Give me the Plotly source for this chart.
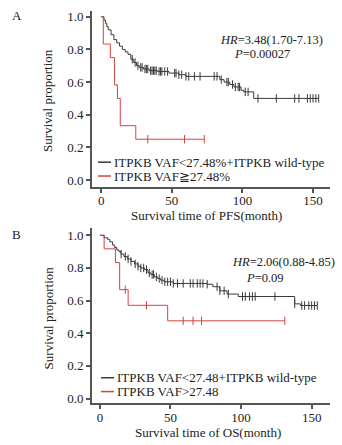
import numpy as np
import plotly.graph_objects as go

# ---- Panel A: progression-free survival ----
pfs_low_t = [0, 2, 3, 4, 5, 7, 9, 11, 13, 15, 17, 19, 21, 23, 25, 27, 30, 34, 40, 48, 55, 60, 84, 87, 91, 94, 99, 101, 108]
pfs_low_s = [1.0, 0.98, 0.96, 0.94, 0.92, 0.89, 0.86, 0.84, 0.82, 0.80, 0.785, 0.77, 0.74, 0.72, 0.70, 0.69, 0.68, 0.67,
             0.665, 0.655, 0.645, 0.635, 0.615, 0.60, 0.585, 0.57, 0.55, 0.54, 0.50]
pfs_low_cens = [22, 24, 26, 28, 29, 31, 32, 33, 35, 36, 37, 38, 39, 41, 42, 43, 45, 47, 52, 53, 55, 57, 60, 62, 66, 70,
                80, 82, 85, 89, 90, 93, 95, 97, 98, 102, 104, 111, 124, 137, 140, 146, 148, 150, 152, 154]
pfs_high_t = [0, 1.5, 6.5, 9.5, 11.5, 13.5, 24.5]
pfs_high_s = [1.0, 0.833, 0.75, 0.583, 0.50, 0.333, 0.25]
pfs_high_cens = [33, 59, 73]

# ---- Panel B: overall survival ----
os_low_t = [0, 3, 5.5, 7, 9, 10.5, 12, 13.5, 15, 17, 19.5, 22, 24.5, 27, 29, 31.5, 34, 36, 38.5, 41, 43, 45.5, 52,
            76, 80, 85, 90, 98, 138, 142]
os_low_s = [1.0, 0.985, 0.975, 0.96, 0.94, 0.925, 0.91, 0.90, 0.885, 0.87, 0.855, 0.84, 0.825, 0.81, 0.80, 0.79, 0.77,
            0.76, 0.745, 0.735, 0.725, 0.715, 0.705, 0.70, 0.685, 0.66, 0.64, 0.625, 0.58, 0.57]
os_low_cens = [15, 18, 20, 22, 25, 27, 29, 31, 33, 35, 37, 38, 40, 42, 44, 46, 48, 50, 52, 55, 59, 64, 66, 69, 71, 73,
               76, 83, 85, 88, 91, 101, 103, 106, 108, 110, 124, 138, 143, 145, 148, 150, 152, 154]
os_high_t = [0, 3, 11, 14, 20, 48]
os_high_s = [1.0, 0.917, 0.833, 0.667, 0.571, 0.476]
os_high_cens = [18, 33, 59, 66, 72, 131]

x_ticks = [0, 50, 100, 150]
y_ticks = [0.0, 0.2, 0.4, 0.6, 0.8, 1.0]

GREY = "#3a3a3a"
RED = "#d4443e"
AXIS = "#555555"
FONT = "Liberation Serif"


def step_curve(t, s, cens):
    """Return step-function coordinates extended to the last censor time."""
    end = max(max(t), max(cens))
    xs = list(t) + [end]
    ys = list(s) + [s[-1]]
    idx = np.searchsorted(np.array(t), np.array(cens), side="right") - 1
    cy = [s[i] for i in idx]
    return xs, ys, cy


fig = go.Figure()

panels = [
    ("x", "y", pfs_low_t, pfs_low_s, pfs_low_cens, pfs_high_t, pfs_high_s, pfs_high_cens),
    ("x2", "y2", os_low_t, os_low_s, os_low_cens, os_high_t, os_high_s, os_high_cens),
]
for xa, ya, lt, ls, lc, ht, hs, hc in panels:
    for t, s, c, col in [(lt, ls, lc, GREY), (ht, hs, hc, RED)]:
        xs, ys, cy = step_curve(t, s, c)
        fig.add_trace(go.Scatter(x=xs, y=ys, mode="lines", line=dict(color=col, width=1, shape="hv"),
                                 xaxis=xa, yaxis=ya, showlegend=False, hoverinfo="skip"))
        fig.add_trace(go.Scatter(x=c, y=cy, mode="markers",
                                 marker=dict(symbol="line-ns", size=6, line=dict(color=col, width=1)),
                                 xaxis=xa, yaxis=ya, showlegend=False, hoverinfo="skip"))

axis_common = dict(showline=True, linecolor=AXIS, linewidth=2, ticks="outside", ticklen=4, tickwidth=1.5,
                   tickcolor=AXIS, showgrid=False, zeroline=False, mirror=False,
                   tickfont=dict(family=FONT, size=13, color="#222"))

x_dom = [92 / 342, 330 / 342]
fig.update_layout(
    width=342, height=445, margin=dict(l=0, r=0, t=0, b=0),
    paper_bgcolor="white", plot_bgcolor="white",
    xaxis=dict(domain=x_dom, range=[-6.5, 162], tickvals=x_ticks, anchor="y", ticklabelstandoff=-3, **axis_common),
    yaxis=dict(domain=[1 - 187 / 445, 1 - 9 / 445], range=[-0.042, 1.036], tickvals=y_ticks,
               tickformat=".1f", anchor="x", **axis_common),
    xaxis2=dict(domain=x_dom, range=[-5.6, 163], tickvals=x_ticks, anchor="y2", ticklabelstandoff=-3, **axis_common),
    yaxis2=dict(domain=[1 - 406 / 445, 1 - 229 / 445], range=[-0.03, 1.042], tickvals=y_ticks,
                tickformat=".1f", anchor="x2", **axis_common),
)


def px_ann(text, x, y, size=13, xanchor="left", yanchor="middle", angle=0):
    fig.add_annotation(text=text, x=x / 342, y=1 - y / 445, xref="paper", yref="paper", showarrow=False,
                       xanchor=xanchor, yanchor=yanchor, textangle=angle,
                       font=dict(family=FONT, size=size, color="#222"))


# panel letters
px_ann("A", 10, 14, size=13)
px_ann("B", 10, 235, size=13)

# axis titles
px_ann("Survival proportion", 48, 100, size=13, xanchor="center", angle=-90)
px_ann("Survival proportion", 48, 320, size=13, xanchor="center", angle=-90)
px_ann("Survival time of PFS(month)", 206, 216, size=13, xanchor="center")
px_ann("Survival time of OS(month)", 208, 435, size=13, xanchor="center")

# hazard ratio statistics
px_ann("<i>HR</i>=3.48(1.70-7.13)", 325, 38, size=12.5, xanchor="right")
px_ann("<i>P</i>=0.00027", 232, 53, size=12.5)
px_ann("<i>HR</i>=2.06(0.88-4.85)", 337, 263, size=12.5, xanchor="right")
px_ann("<i>P</i>=0.09", 244, 279, size=12.5)

# legends
legend_rows = [
    (162, GREY, "ITPKB VAF<27.48%+ITPKB wild-type", 98),
    (176, RED, "ITPKB VAF\u226727.48%", 98),
    (380, GREY, "ITPKB VAF<27.48+ITPKB wild-type", 101),
    (394, RED, "ITPKB VAF>27.48", 101),
]
for y, col, label, x0 in legend_rows:
    fig.add_shape(type="line", xref="paper", yref="paper", x0=x0 / 342, x1=(x0 + 13) / 342,
                  y0=1 - y / 445, y1=1 - y / 445, line=dict(color=col, width=1.5))
    px_ann(label, x0 + 14, y, size=13)

fig.write_html("out.html")
